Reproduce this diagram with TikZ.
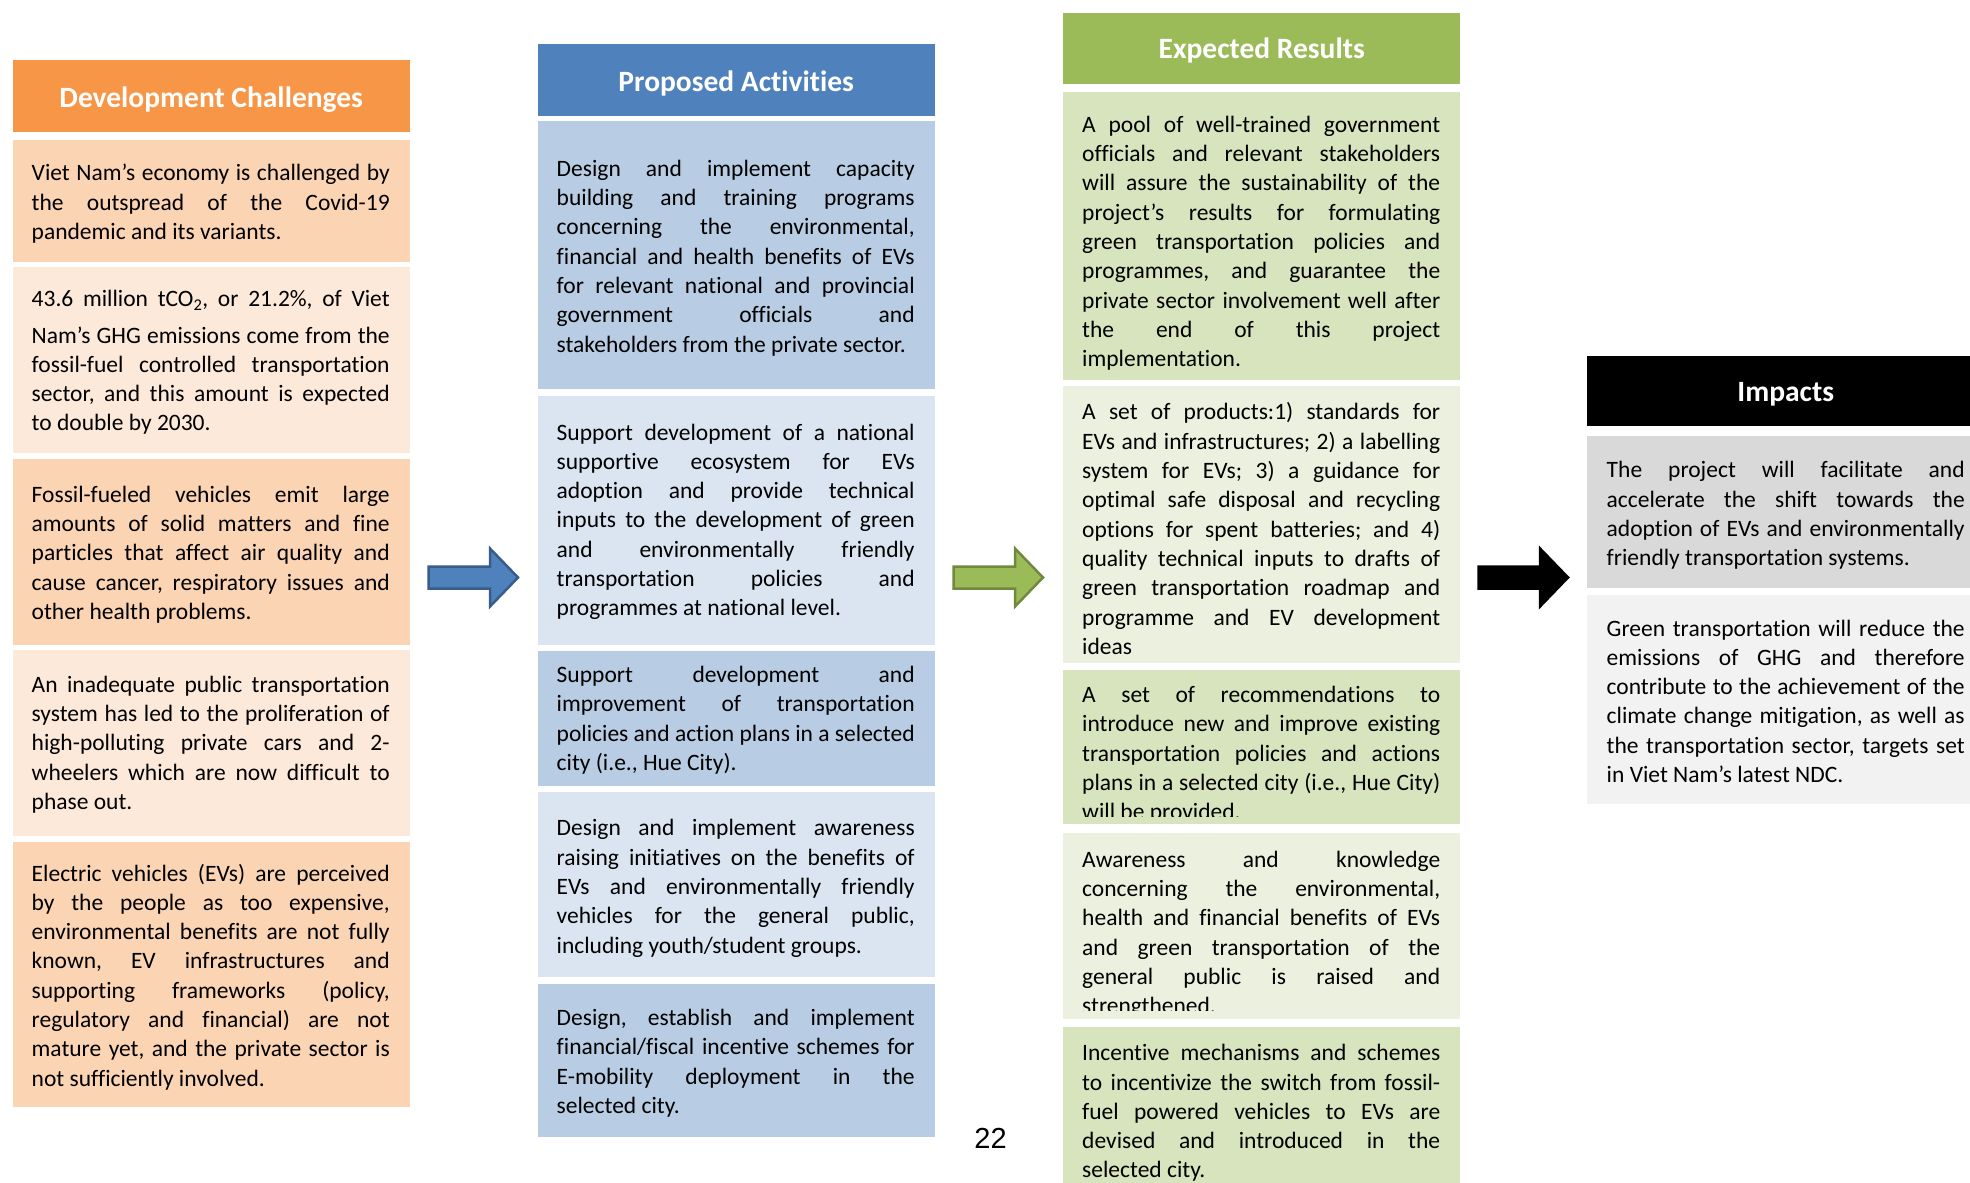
\documentclass[tikz,border=0pt]{standalone}
\usepackage{fontspec}
\setmainfont{Carlito}[Ligatures={NoCommon}]
\newfontfamily\arialfont{Liberation Sans}
\definecolor{orH}{HTML}{F79646}
\definecolor{orD}{HTML}{FBD4B4}
\definecolor{orL}{HTML}{FDE9D9}
\definecolor{blH}{HTML}{4F81BD}
\definecolor{blD}{HTML}{B8CCE4}
\definecolor{blL}{HTML}{DBE5F1}
\definecolor{grH}{HTML}{9BBB59}
\definecolor{grD}{HTML}{D7E4BD}
\definecolor{grL}{HTML}{EBF1DE}
\definecolor{gyD}{HTML}{D9D9D9}
\definecolor{gyL}{HTML}{F2F2F2}
\definecolor{blB}{HTML}{385D8A}
\definecolor{grB}{HTML}{71893F}
\newcommand\jl[1]{\hbox to\hsize{#1}}
\newcommand\el[1]{\hbox{#1}}
\newcommand\txt[1]{\vtop{\hsize=358pt\relax#1}}
\hbadness=10000 \hfuzz=30pt
\usetikzlibrary{calc}
\tikzset{
  hdr/.style={anchor=north west, inner sep=0pt, minimum width=397pt},
  hdrtxt/.style={inner sep=0pt, text=white, font=\bfseries\fontsize{29.5}{35}\selectfont},
  cell/.style={anchor=north west, inner sep=0pt, minimum width=397pt},
  body/.style={anchor=base west, inner sep=0pt, text=black, font=\fontsize{23.5}{29.3}\selectfont\frenchspacing},
  blockarrow/.style={line width=2.5pt, line join=miter},
}
\newcommand\blockarr[4]{% name, left x, fill, draw
  \coordinate (#1) at (#2,577.5);
  \filldraw[blockarrow, fill=#3, draw=#4] (#1) ++(1.5,-11) -- ++(61.5,0) -- ++(0,-18) -- ($(#1)+(91,0)$) -- ++(-28,29) -- ++(0,-18) -- ++(-61.5,0) -- cycle;}
\begin{document}
\begin{tikzpicture}[x=1pt,y=-1pt]
\useasboundingbox (0,0) rectangle (1970,1183);
\clip (0,0) rectangle (1970,1183);
\fill[white] (0,0) rectangle (1970,1183);

% ---------- Column 1 ----------
\node[hdr, fill=orH, minimum height=72pt] (c1h) at (12.5,60) {};
\node[hdrtxt] (c1ht) at ($(c1h.center)+(0,3.5)$) {Development Challenges};
\node[cell, fill=orD, minimum height=122pt] (c1b1) at (12.5,140) {};
\node[cell, fill=orL, minimum height=186pt] (c1b2) at (12.5,267) {};
\node[cell, fill=orD, minimum height=186pt] (c1b3) at (12.5,459) {};
\node[cell, fill=orL, minimum height=186pt] (c1b4) at (12.5,650) {};
\node[cell, fill=orD, minimum height=265pt] (c1b5) at (12.5,842) {};

\node[body] (c1t1) at (31.5,180.7) {\txt{%
\jl{Viet Nam’s economy is challenged by}
\jl{the outspread of the Covid-19}
\el{pandemic and its variants.}}};
\node[body] (c1t2) at (31.5,306.7) {\txt{%
\jl{43.6 million tCO\textsubscript{2}, or 21.2\%, of Viet}\kern7pt
\jl{Nam’s GHG emissions come from the}
\jl{fossil-fuel controlled transportation}
\jl{sector, and this amount is expected}
\el{to double by 2030.}}};
\node[body] (c1t3) at (31.5,502.3) {\txt{%
\jl{Fossil-fueled vehicles emit large}
\jl{amounts of solid matters and fine}
\jl{particles that affect air quality and}
\jl{cause cancer, respiratory issues and}
\el{other health problems.}}};
\node[body] (c1t4) at (31.5,692.3) {\txt{%
\jl{An inadequate public transportation}
\jl{system has led to the proliferation of}
\jl{high-polluting private cars and 2-}
\jl{wheelers which are now difficult to}
\el{phase out.}}};
\node[body] (c1t5) at (31.5,881) {\txt{%
\jl{Electric vehicles (EVs) are perceived}
\jl{by the people as too expensive,}
\jl{environmental benefits are not fully}
\jl{known, EV infrastructures and}
\jl{supporting frameworks (policy,}
\jl{regulatory and financial) are not}
\jl{mature yet, and the private sector is}
\el{not sufficiently involved.}}};

% ---------- Column 2 ----------
\node[hdr, fill=blH, minimum height=72pt] (c2h) at (537.5,44) {};
\node[hdrtxt] (c2ht) at ($(c2h.center)+(0,3)$) {Proposed Activities};
\node[cell, fill=blD, minimum height=268pt] (c2b1) at (537.5,121) {};
\node[cell, fill=blL, minimum height=249pt] (c2b2) at (537.5,396) {};
\node[cell, fill=blD, minimum height=135pt] (c2b3) at (537.5,651) {};
\node[cell, fill=blL, minimum height=185pt] (c2b4) at (537.5,792) {};
\node[cell, fill=blD, minimum height=153pt] (c2b5) at (537.5,984) {};

\node[body] (c2t1) at (556.5,176.2) {\txt{%
\jl{Design and implement capacity}
\jl{building and training programs}
\jl{concerning the environmental,}
\jl{financial and health benefits of EVs}
\jl{for relevant national and provincial}
\jl{government officials and}
\el{stakeholders from the private sector.}}};
\node[body] (c2t2) at (556.5,440) {\txt{%
\jl{Support development of a national}
\jl{supportive ecosystem for EVs}
\jl{adoption and provide technical}
\jl{inputs to the development of green}
\jl{and environmentally friendly}
\jl{transportation policies and}
\el{programmes at national level.}}};
\node[body] (c2t3) at (556.5,682.5) {\txt{%
\jl{Support development and}
\jl{improvement of transportation}
\jl{policies and action plans in a selected}
\el{city (i.e., Hue City).}}};
\node[body] (c2t4) at (556.5,835.8) {\txt{%
\jl{Design and implement awareness}
\jl{raising initiatives on the benefits of}
\jl{EVs and environmentally friendly}
\jl{vehicles for the general public,}
\el{including youth/student groups.}}};
\node[body] (c2t5) at (556.5,1025.5) {\txt{%
\jl{Design, establish and implement}
\jl{financial/fiscal incentive schemes for}
\jl{E-mobility deployment in the}
\el{selected city.}}};

% ---------- Column 3 ----------
\node[hdr, fill=grH, minimum height=71pt] (c3h) at (1063,13) {};
\node[hdrtxt] (c3ht) at ($(c3h.center)+(0,2)$) {Expected Results};
\node[cell, fill=grD, minimum height=288pt] (c3b1) at (1063,92) {};
\node[cell, fill=grL, minimum height=277pt] (c3b2) at (1063,386) {};
\node[cell, fill=grD, minimum height=154pt] (c3b3) at (1063,670) {};
\node[cell, fill=grL, minimum height=186pt] (c3b4) at (1063,833) {};
\node[cell, fill=grD, minimum height=170pt] (c3b5) at (1063,1027) {};

\node[body] (c3t1) at (1082,132.2) {\txt{%
\jl{A pool of well-trained government}
\jl{officials and relevant stakeholders}
\jl{will assure the sustainability of the}
\jl{project’s results for formulating}
\jl{green transportation policies and}
\jl{programmes, and guarantee the}
\jl{private sector involvement well after}
\jl{the end of this project}
\el{implementation.}}};
\node[body] (c3t2) at (1082,419.9) {\txt{%
\jl{A set of products:1) standards for}
\jl{EVs and infrastructures; 2) a labelling}
\jl{system for EVs; 3) a guidance for}
\jl{optimal safe disposal and recycling}
\jl{options for spent batteries; and 4)}
\jl{quality technical inputs to drafts of}
\jl{green transportation roadmap and}
\jl{programme and EV development}
\el{ideas}}};
\begin{scope}
\clip (1063,670) rectangle (1460,816);
\node[body] (c3t3) at (1082,702.6) {\txt{%
\jl{A set of recommendations to}
\jl{introduce new and improve existing}
\jl{transportation policies and actions}
\jl{plans in a selected city (i.e., Hue City)}
\el{will be provided.}}};
\end{scope}
\begin{scope}
\clip (1063,833) rectangle (1460,1010);
\node[body] (c3t4) at (1082,867.2) {\txt{%
\jl{Awareness and knowledge}
\jl{concerning the environmental,}
\jl{health and financial benefits of EVs}
\jl{and green transportation of the}
\jl{general public is raised and}
\el{strengthened.}}};
\end{scope}
\node[body] (c3t5) at (1082,1060.7) {\txt{%
\jl{Incentive mechanisms and schemes}
\jl{to incentivize the switch from fossil-}
\jl{fuel powered vehicles to EVs are}
\jl{devised and introduced in the}
\el{selected city.}}};

% ---------- Column 4 ----------
\node[hdr, fill=black, minimum height=70pt] (c4h) at (1587,356) {};
\node[hdrtxt] (c4ht) at ($(c4h.center)+(0,3)$) {Impacts};
\node[cell, fill=gyD, minimum height=152pt] (c4b1) at (1587,436) {};
\node[cell, fill=gyL, minimum height=209pt] (c4b2) at (1587,595) {};

\node[body] (c4t1) at (1606.5,477.7) {\txt{%
\jl{The project will facilitate and}
\jl{accelerate the shift towards the}
\jl{adoption of EVs and environmentally}
\el{friendly transportation systems.}}};
\node[body] (c4t2) at (1606.5,636) {\txt{%
\jl{Green transportation will reduce the}
\jl{emissions of GHG and therefore}
\jl{contribute to the achievement of the}
\jl{climate change mitigation, as well as}
\jl{the transportation sector, targets set}
\el{in Viet Nam’s latest NDC.}}};

% ---------- Arrows ----------
\blockarr{a1}{427}{blH}{blB}
\blockarr{a2}{952}{grH}{grB}
\blockarr{a3}{1477}{black}{black}

% ---------- Page number ----------
\node[anchor=base, inner sep=0pt, font=\arialfont\fontsize{29}{35}\selectfont] (pg) at (990.5,1148) {22};
\end{tikzpicture}
\end{document}
